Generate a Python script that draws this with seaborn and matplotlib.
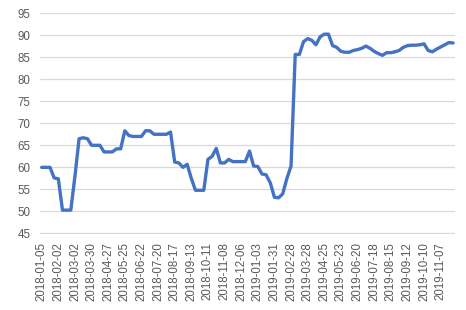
import pandas as pd
import numpy as np
import matplotlib
matplotlib.use("Agg")
import matplotlib.pyplot as plt
import seaborn as sns

# Weekly dates (Fridays until end of Aug 2018, Thursdays afterwards)
dates_part1 = pd.date_range("2018-01-05", periods=35, freq="7D")
dates_part2 = pd.date_range("2018-09-06", periods=65, freq="7D")
dates = [d.strftime("%Y-%m-%d") for d in list(dates_part1) + list(dates_part2)]

values = [
    60.0, 60.0, 60.0, 57.6, 57.4, 50.3, 50.3, 50.3, 58.0, 66.5,
    66.7, 66.5, 65.0, 65.0, 65.0, 63.5, 63.5, 63.5, 64.2, 64.2,
    68.3, 67.2, 67.0, 67.0, 67.0, 68.3, 68.3, 67.5, 67.5, 67.5,
    67.5, 68.0, 61.2, 61.0, 60.0, 60.7, 57.5, 54.8, 54.8, 54.8,
    61.8, 62.5, 64.3, 61.0, 61.0, 61.8, 61.3, 61.3, 61.3, 61.3,
    63.7, 60.3, 60.2, 58.5, 58.3, 56.5, 53.2, 53.1, 54.0, 57.5,
    60.3, 85.6, 85.6, 88.5, 89.2, 88.8, 87.8, 89.6, 90.2, 90.2,
    87.6, 87.2, 86.3, 86.1, 86.1, 86.5, 86.7, 87.0, 87.5, 87.0,
    86.3, 85.8, 85.4, 86.0, 86.0, 86.2, 86.5, 87.2, 87.6, 87.7,
    87.7, 87.8, 88.0, 86.5, 86.2, 86.8, 87.3, 87.8, 88.3, 88.2,
]

y_ticks = [45, 50, 55, 60, 65, 70, 75, 80, 85, 90, 95]

df = pd.DataFrame({"idx": np.arange(len(values)), "value": values})

sns.set_style("white")
plt.rcParams["font.family"] = ["Liberation Sans", "DejaVu Sans"]

fig = plt.figure(figsize=(4.66, 3.10), dpi=100)
ax = fig.add_axes([40 / 466, 1 - 233.5 / 310, 415 / 466, (233.5 - 13) / 310])

sns.lineplot(data=df, x="idx", y="value", ax=ax, color="#4472C4", linewidth=2.4)

ax.set_ylim(45, 95)
ax.set_yticks(y_ticks)
ax.set_xlim(-0.41, 99.45)
tick_pos = list(range(0, len(dates), 4))
ax.set_xticks(tick_pos)
ax.set_xticklabels([dates[i] for i in tick_pos], rotation=90)

ax.grid(axis="y", color="#d9d9d9", linewidth=0.9)
ax.set_axisbelow(True)
for s in ax.spines.values():
    s.set_visible(False)
ax.tick_params(axis="both", length=0, labelsize=8.3, colors="#595959")
ax.tick_params(axis="y", pad=7)
ax.tick_params(axis="x", pad=6)
ax.set_xlabel("")
ax.set_ylabel("")

fig.savefig("out.png", dpi=100)
